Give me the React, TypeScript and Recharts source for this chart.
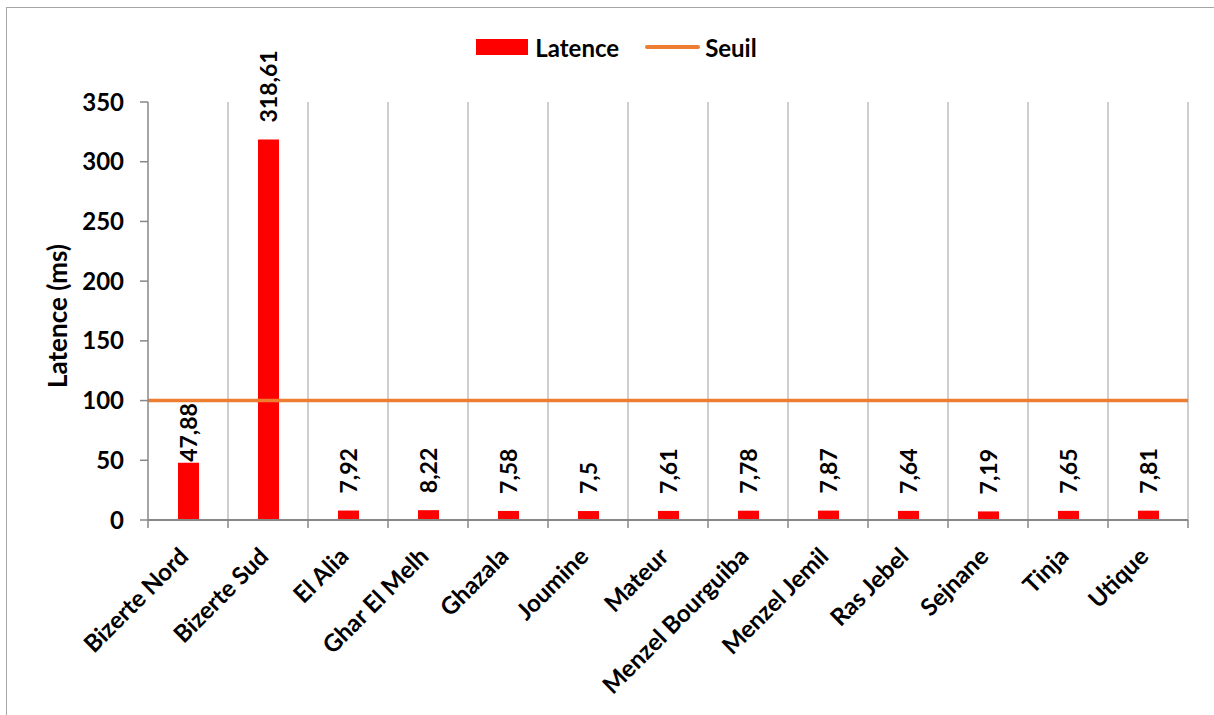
import {
  ComposedChart,
  Bar,
  XAxis,
  YAxis,
  CartesianGrid,
  ReferenceLine,
  LabelList,
  Legend,
} from "recharts";

const sites = [
  "Bizerte Nord",
  "Bizerte Sud",
  "El Alia",
  "Ghar El Melh",
  "Ghazala",
  "Joumine",
  "Mateur",
  "Menzel Bourguiba",
  "Menzel Jemil",
  "Ras Jebel",
  "Sejnane",
  "Tinja",
  "Utique",
];
const latence = [47.88, 318.61, 7.92, 8.22, 7.58, 7.5, 7.61, 7.78, 7.87, 7.64, 7.19, 7.65, 7.81];
const seuil = 100;
const yTicks = [0, 50, 100, 150, 200, 250, 300, 350];

const data = sites.map((site, i) => ({ site, latence: latence[i] }));

const CHART_W = 1207;
const CHART_H = 706;
const Y_AXIS_W = 141;
const MARGIN_RIGHT = 26;
const PLOT_W = CHART_W - Y_AXIS_W - MARGIN_RIGHT;
const HALF_BAND = PLOT_W / sites.length / 2;

const FONT = "Lato, 'Open Sans', sans-serif";
const RED = "#FF0000";
const ORANGE = "#ED7D31";
const GRID = "#9C9C9C";
const AXIS = "#878787";

const fmt = (v: number) => String(v).replace(".", ",");

const CategoryTick = (props: any) => {
  const { x, y, payload, index } = props;
  return (
    <g>
      <line x1={x - HALF_BAND} y1={y} x2={x - HALF_BAND} y2={y + 8} stroke={AXIS} strokeWidth={1.5} />
      {index === sites.length - 1 && (
        <line x1={x + HALF_BAND} y1={y} x2={x + HALF_BAND} y2={y + 8} stroke={AXIS} strokeWidth={1.5} />
      )}
      <text
        x={0}
        y={0}
        transform={`translate(${x + 2},${y + 38}) rotate(-45)`}
        textAnchor="end"
        fontFamily={FONT}
        fontWeight="bold"
        fontSize={24}
        fill="#000"
      >
        {payload.value}
      </text>
    </g>
  );
};

const ValueLabel = (props: any) => {
  const { x, y, width, value, index } = props;
  const gap = index === 0 ? 1 : 17;
  return (
    <text
      x={0}
      y={0}
      dy="0.35em"
      transform={`translate(${x + width / 2},${y - gap}) rotate(-90)`}
      textAnchor="start"
      fontFamily={FONT}
      fontWeight="bold"
      fontSize={23}
      fill="#000"
    >
      {fmt(value)}
    </text>
  );
};

const LegendContent = () => (
  <div
    style={{
      display: "flex",
      justifyContent: "center",
      alignItems: "center",
      height: 24,
      paddingBottom: 43,
      marginLeft: 38,
      fontFamily: FONT,
      fontWeight: "bold",
      fontSize: 24,
      color: "#000",
    }}
  >
    <span style={{ width: 52, height: 16, background: RED, marginRight: 7 }} />
    <span style={{ marginRight: 26 }}>Latence</span>
    <span style={{ width: 55, height: 4, background: ORANGE, marginRight: 5, borderRadius: 2 }} />
    <span>Seuil</span>
  </div>
);

const App = () => {
  return (
    <div
      style={{
        position: "absolute",
        left: 6,
        top: 7,
        width: CHART_W,
        height: CHART_H + 1,
        borderLeft: "1px solid #A6A6A6",
        borderTop: "1px solid #A6A6A6",
        background: "#fff",
      }}
    >
      <ComposedChart
        width={CHART_W}
        height={CHART_H}
        data={data}
        margin={{ top: 27, right: MARGIN_RIGHT, left: 0, bottom: 0 }}
        barCategoryGap="0%"
      >
        <Legend verticalAlign="top" align="center" content={<LegendContent />} />
        <CartesianGrid
          horizontal={false}
          stroke={GRID}
          strokeWidth={1}
          verticalCoordinatesGenerator={({ offset }: any) =>
            sites.map((_, i) => offset.left + ((i + 1) * offset.width) / sites.length)
          }
        />
        <XAxis
          dataKey="site"
          interval={0}
          height={CHART_H - 512}
          axisLine={{ stroke: AXIS, strokeWidth: 2 }}
          tickLine={false}
          tickSize={0}
          tickMargin={0}
          tick={<CategoryTick />}
        />
        <YAxis
          width={Y_AXIS_W}
          domain={[0, 350]}
          ticks={yTicks}
          interval={0}
          axisLine={{ stroke: AXIS, strokeWidth: 1.5 }}
          tickLine={{ stroke: AXIS, strokeWidth: 1.5 }}
          tickSize={8}
          tickMargin={16}
          tick={{ fontFamily: FONT, fontWeight: "bold", fontSize: 24, fill: "#000" }}
          label={{
            value: "Latence (ms)",
            content: ({ viewBox }: any) => (
              <text
                x={0}
                y={0}
                transform={`translate(${viewBox.x + 51},${viewBox.y + viewBox.height / 2 + 5}) rotate(-90)`}
                textAnchor="middle"
                dy="0.35em"
                fontFamily={FONT}
                fontWeight="bold"
                fontSize={26}
                fill="#000"
              >
                Latence (ms)
              </text>
            ),
          }}
        />
        <Bar dataKey="latence" fill={RED} barSize={21} isAnimationActive={false}>
          <LabelList dataKey="latence" content={<ValueLabel />} />
        </Bar>
        <ReferenceLine y={seuil} stroke={ORANGE} strokeWidth={3.5} />
      </ComposedChart>
    </div>
  );
};

export default App;
